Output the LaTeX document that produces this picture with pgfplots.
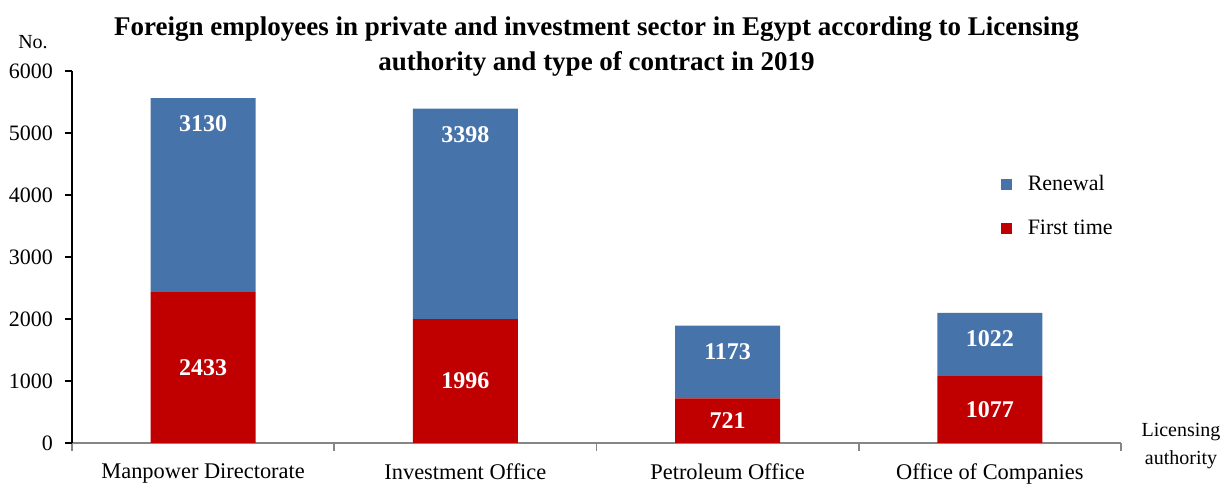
\documentclass[border=0pt]{standalone}
\usepackage{fontspec}
\setmainfont{Liberation Serif}
\usepackage{pgfplots}
\pgfplotsset{compat=1.18}
\usetikzlibrary{calc}
\definecolor{renew}{HTML}{4673A9}
\definecolor{first}{HTML}{C00000}
\definecolor{axgray}{HTML}{868686}

\begin{document}
\begin{tikzpicture}
\begin{axis}[
  scale only axis, width=524.5pt, height=186pt,
  ybar stacked, bar width=52.5pt,
  xmin=-0.5, xmax=3.5, ymin=0, ymax=6000,
  xtick={0,1,2,3},
  xticklabels={Manpower Directorate,Investment Office,Petroleum Office,Office of Companies},
  minor xtick={-0.5,0.5,1.5,2.5,3.5},
  ytick={0,1000,...,6000},
  axis x line*=bottom, axis y line*=left,
  x axis line style={axgray, line width=0.9pt},
  y axis line style={black, line width=0.6pt},
  tick align=outside,
  major tick length=3.5pt, minor tick length=4pt,
  every major x tick/.style={draw=none},
  every minor x tick/.style={axgray, line width=0.9pt},
  every major y tick/.style={black, line width=0.6pt},
  /pgf/number format/1000 sep={},
  /pgf/number format/assume math mode=true,
  yticklabel style={font=\fontsize{11}{13}\selectfont, xshift=-2.5pt},
  xticklabel style={font=\fontsize{11.2}{13}\selectfont, yshift=-3.3pt},
  legend style={at={(0.885,0.636)}, anchor=west, draw=none, fill=none,
    font=\fontsize{11}{13}\selectfont, row sep=9pt, inner sep=0pt},
  legend cell align=left, reverse legend,
]
\coordinate (o) at (rel axis cs:0,0);
\coordinate (t) at (rel axis cs:1,1);
\coordinate (tl) at (rel axis cs:0,1);
\coordinate (tm) at (rel axis cs:0.5,1);
\coordinate (br) at (rel axis cs:1,0);
\addplot[fill=first, draw=none,
  legend image code/.code={\fill[first] (0pt,-2.75pt) rectangle (5.5pt,2.75pt); \path[draw=none,fill=none] (0pt,0) -- (11.5pt,0);},
  nodes near coords,
  nodes near coords style={white, font=\bfseries\fontsize{12}{14}\selectfont, anchor=center}]
  coordinates {(0,2433) (1,1996) (2,721) (3,1077)};
\addlegendentry{First time}
\addplot[fill=renew, draw=none,
  legend image code/.code={\fill[renew] (0pt,-2.75pt) rectangle (5.5pt,2.75pt); \path[draw=none,fill=none] (0pt,0) -- (11.5pt,0);},
  visualization depends on=rawy\as\rawy,
  nodes near coords,
  nodes near coords style={white, font=\bfseries\fontsize{12}{14}\selectfont, anchor=center, shift={(axis direction cs:0,\rawy/2)}, yshift=-13pt}]
  coordinates {(0,3130) (1,3398) (2,1173) (3,1022)};
\addlegendentry{Renewal}
\end{axis}
\node[font=\bfseries\fontsize{13.5}{17.5}\selectfont, align=center] at ($(tm)+(0,12.25pt)$)
  {Foreign employees in private and investment sector in Egypt according to Licensing\\authority and type of contract in 2019};
\node[font=\fontsize{10}{12}\selectfont] at ($(tl)+(-19.5pt,14.5pt)$) {No.};
\node[font=\fontsize{10}{14}\selectfont, align=center] at ($(br)+(30pt,-1.5pt)$) {Licensing\\authority};
\pgfresetboundingbox
\path[use as bounding box] ($(o)+(-36pt,-22pt)$) rectangle ($(t)+(53.5pt,35.5pt)$);
\end{tikzpicture}
\end{document}
